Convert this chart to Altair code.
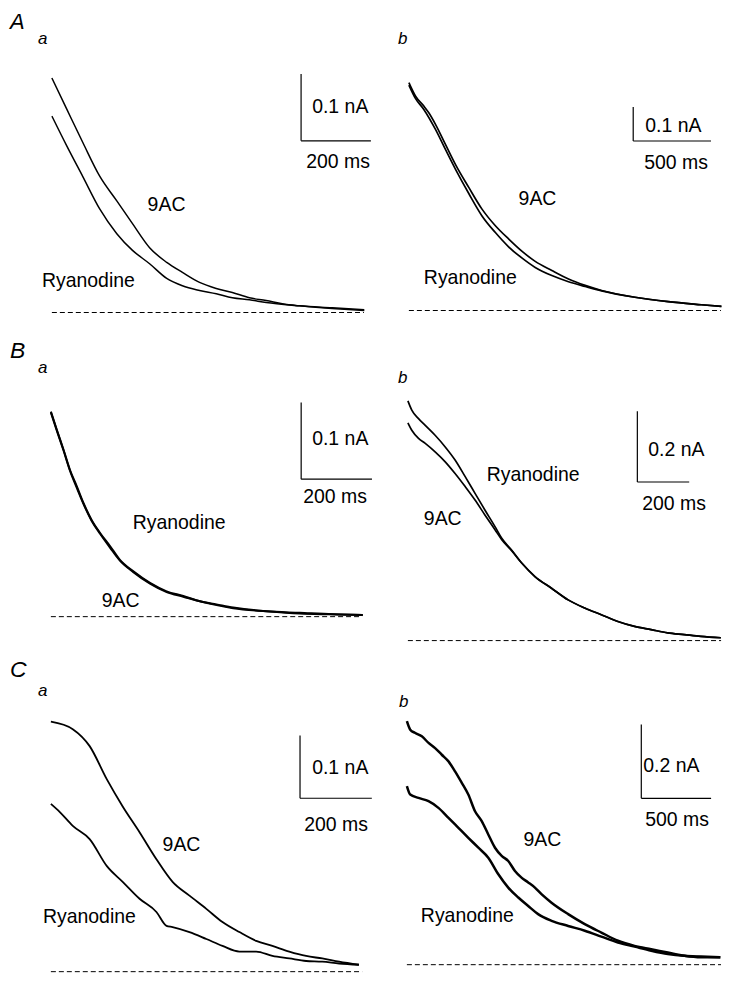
import altair as alt
import pandas as pd

# ---------------- data (time in ms, current in nA) ----------------
# Panel A a
Aa_9ac_t = [0, 43, 89, 137, 186, 231, 280, 329, 374, 423, 471, 517, 566, 614, 660, 709, 803, 895]
Aa_9ac = [0.351, 0.304, 0.254, 0.204, 0.167, 0.133, 0.097, 0.075, 0.060, 0.045, 0.036,
          0.030, 0.022, 0.018, 0.013, 0.010, 0.007, 0.004]
Aa_ry_t = [0, 43, 89, 137, 186, 231, 280, 329, 374, 423, 471, 517, 566, 614, 709, 803, 895]
Aa_ry = [0.294, 0.249, 0.203, 0.155, 0.118, 0.093, 0.073, 0.051, 0.040, 0.033, 0.028,
         0.022, 0.019, 0.015, 0.010, 0.006, 0.003]

# Panel A b
Ab_9ac_t = [0, 43, 96, 128, 171, 235, 299, 385, 470, 556, 641, 726, 812, 919, 1026, 1133,
            1239, 1453, 1667, 1880, 2009]
Ab_9ac = [0.672, 0.632, 0.603, 0.583, 0.549, 0.490, 0.431, 0.363, 0.299, 0.250, 0.211,
          0.175, 0.145, 0.118, 0.093, 0.074, 0.059, 0.039, 0.026, 0.017, 0.012]
Ab_ry_t = [0, 43, 96, 171, 235, 299, 385, 470, 556, 641, 726, 812, 919, 1026, 1133, 1239,
           1453, 1667, 1880, 2009]
Ab_ry = [0.665, 0.625, 0.593, 0.534, 0.475, 0.417, 0.345, 0.279, 0.230, 0.188, 0.155,
         0.127, 0.103, 0.085, 0.071, 0.058, 0.039, 0.026, 0.017, 0.012]

# Panel B a
Ba_t = [0, 17, 36, 54, 73, 92, 115, 139, 167, 195, 233, 280, 327, 374, 421, 468, 515, 609,
        703, 796, 881]
Ba_ry = [0.267, 0.243, 0.217, 0.191, 0.170, 0.148, 0.126, 0.109, 0.092, 0.074, 0.059,
         0.044, 0.033, 0.027, 0.020, 0.016, 0.012, 0.007, 0.005, 0.003, 0.002]
Ba_9ac = [0.266, 0.242, 0.216, 0.190, 0.168, 0.147, 0.125, 0.108, 0.090, 0.073, 0.058,
          0.043, 0.032, 0.026, 0.020, 0.015, 0.011, 0.007, 0.004, 0.003, 0.002]

# Panel B b
Bb_t = [0, 15, 41, 67, 105, 144, 182, 221, 259, 297, 336, 362, 400, 439, 490, 554, 618, 682,
        746, 810, 874, 938, 1002, 1066, 1130, 1207]
Bb_ry = [0.677, 0.651, 0.627, 0.608, 0.580, 0.547, 0.510, 0.463, 0.416, 0.369, 0.322,
         0.289, 0.256, 0.219, 0.181, 0.148, 0.115, 0.092, 0.073, 0.054, 0.040, 0.031,
         0.022, 0.017, 0.012, 0.008]
Bb_9ac = [0.615, 0.594, 0.571, 0.557, 0.533, 0.505, 0.472, 0.435, 0.397, 0.355, 0.313,
          0.285, 0.254, 0.219, 0.181, 0.148, 0.115, 0.092, 0.073, 0.054, 0.040, 0.031,
          0.022, 0.017, 0.012, 0.008]

# Panel C a
Ca_t = [0, 25, 61, 108, 156, 200, 247, 294, 322, 339, 386, 433, 478, 525, 572, 617, 664,
        711, 756, 803, 858]
Ca_9ac_t = [0, 61, 108, 156, 200, 247, 294, 339, 386, 433, 478, 525, 572, 617, 664, 711,
            756, 803, 858]
Ca_9ac = [0.398, 0.386, 0.359, 0.306, 0.263, 0.222, 0.179, 0.143, 0.121, 0.100, 0.079,
          0.063, 0.049, 0.041, 0.032, 0.025, 0.021, 0.016, 0.011]
Ca_ry = [0.267, 0.254, 0.232, 0.211, 0.168, 0.143, 0.116, 0.095, 0.073, 0.071, 0.063,
         0.052, 0.041, 0.032, 0.032, 0.025, 0.021, 0.017, 0.016, 0.013, 0.011]

# Panel C b
Cb_9ac_t = [0, 24, 60, 107, 155, 202, 250, 298, 345, 393, 440, 488, 536, 583, 631, 679, 726,
            774, 821, 869, 917, 964, 1036, 1155, 1274, 1393, 1512, 1631, 1750, 1869, 1988,
            2107, 2245]
Cb_9ac = [0.660, 0.637, 0.628, 0.619, 0.601, 0.587, 0.569, 0.551, 0.524, 0.493, 0.461,
          0.416, 0.389, 0.353, 0.317, 0.295, 0.281, 0.254, 0.236, 0.223, 0.209, 0.191,
          0.168, 0.137, 0.110, 0.087, 0.065, 0.051, 0.042, 0.033, 0.024, 0.020, 0.020]
Cb_ry_t = [0, 24, 83, 155, 226, 298, 369, 440, 512, 583, 655, 726, 798, 869, 940, 1036,
           1155, 1274, 1393, 1512, 1631, 1750, 1869, 1988, 2107, 2245]
Cb_ry = [0.484, 0.461, 0.452, 0.443, 0.425, 0.398, 0.371, 0.344, 0.317, 0.290, 0.245,
         0.209, 0.182, 0.159, 0.137, 0.119, 0.105, 0.092, 0.076, 0.060, 0.049, 0.038,
         0.029, 0.024, 0.022, 0.020]

# scale bars: duration (ms), amplitude (nA), labels
BAR_DUR = [200, 500, 200, 200, 200, 500]
BAR_AMP = [0.1, 0.1, 0.1, 0.2, 0.1, 0.2]
BAR_AMP_LABEL = ["0.1 nA", "0.1 nA", "0.1 nA", "0.2 nA", "0.1 nA", "0.2 nA"]
BAR_DUR_LABEL = ["200 ms", "500 ms", "200 ms", "200 ms", "200 ms", "500 ms"]

# ---------------- layout ----------------
ROW_TOP = [8, 328, 656]
ROW_H = [320, 328, 322]
COL_LEFT = [8, 378]
COL_W = [370, 348]
FONT = "Liberation Sans"
LBL = 19.5

panels = [
    dict(row=0, col=0, start_px=52, base_px=312, ms_px=200 / 70, na_px=0.1 / 67,
         traces=[(Aa_9ac_t, Aa_9ac), (Aa_ry_t, Aa_ry)], base_end=894, bar_at=(714, 0.257), sw=1.5,
         texts=[("A", 10, 28, 22, True), ("a", 38, 43, 17, True),
                (BAR_AMP_LABEL[0], 313, 112, LBL, False), (BAR_DUR_LABEL[0], 307, 167, LBL, False),
                ("9AC", 148, 210, LBL, False), ("Ryanodine", 42, 286, LBL, False)]),
    dict(row=0, col=1, start_px=410, base_px=310, ms_px=500 / 78, na_px=0.1 / 34,
         traces=[(Ab_9ac_t, Ab_9ac), (Ab_ry_t, Ab_ry)], base_end=2006, bar_at=(1442, 0.5), sw=1.7,
         texts=[("b", 399, 43, 17, True),
                (BAR_AMP_LABEL[1], 647, 131, LBL, False), (BAR_DUR_LABEL[1], 646, 168, LBL, False),
                ("9AC", 520, 204, LBL, False), ("Ryanodine", 425, 283, LBL, False)]),
    dict(row=1, col=0, start_px=51, base_px=617, ms_px=200 / 71, na_px=0.1 / 77,
         traces=[(Ba_t, Ba_ry), (Ba_t, Ba_9ac)], base_end=879, bar_at=(707, 0.179), sw=2.0,
         texts=[("B", 10, 358, 23, True), ("a", 38, 373, 17, True),
                (BAR_AMP_LABEL[2], 313, 445, LBL, False), (BAR_DUR_LABEL[2], 304, 503, LBL, False),
                ("Ryanodine", 133, 529, LBL, False), ("9AC", 102, 607, LBL, False)]),
    dict(row=1, col=1, start_px=409, base_px=641, ms_px=200 / 52, na_px=0.2 / 71,
         traces=[(Bb_t, Bb_ry), (Bb_t, Bb_9ac)], base_end=1208, bar_at=(885, 0.448), sw=1.7,
         texts=[("b", 399, 383, 17, True),
                (BAR_AMP_LABEL[3], 650, 456, LBL, False), (BAR_DUR_LABEL[3], 644, 510, LBL, False),
                ("Ryanodine", 488, 481, LBL, False), ("9AC", 425, 525, LBL, False)]),
    dict(row=2, col=0, start_px=51, base_px=973, ms_px=200 / 72, na_px=0.1 / 63,
         traces=[(Ca_9ac_t, Ca_9ac), (Ca_t, Ca_ry)], base_end=867, bar_at=(694, 0.276), sw=1.8,
         texts=[("C", 10, 678, 23, True), ("a", 38, 697, 17, True),
                (BAR_AMP_LABEL[4], 313, 775, LBL, False), (BAR_DUR_LABEL[4], 305, 832, LBL, False),
                ("9AC", 163, 852, LBL, False), ("Ryanodine", 43, 924, LBL, False)]),
    dict(row=2, col=1, start_px=408, base_px=966, ms_px=500 / 70, na_px=0.2 / 74,
         traces=[(Cb_9ac_t, Cb_9ac), (Cb_ry_t, Cb_ry)], base_end=2250, bar_at=(1679, 0.451), sw=2.5,
         texts=[("b", 400, 708, 17, True),
                (BAR_AMP_LABEL[5], 645, 773, LBL, False), (BAR_DUR_LABEL[5], 647, 827, LBL, False),
                ("9AC", 525, 847, LBL, False), ("Ryanodine", 422, 923, LBL, False)]),
]


def make_panel(k, p):
    left = COL_LEFT[p["col"]]
    w = COL_W[p["col"]]
    top = ROW_TOP[p["row"]]
    h = ROW_H[p["row"]]
    t_lo = -(p["start_px"] - left) * p["ms_px"]
    t_hi = t_lo + w * p["ms_px"]
    i_hi = (p["base_px"] - top) * p["na_px"]
    i_lo = i_hi - h * p["na_px"]
    xs = alt.Scale(domain=[t_lo, t_hi], nice=False, zero=False)
    ys = alt.Scale(domain=[i_lo, i_hi], nice=False, zero=False)

    layers = []
    # dashed zero-current baseline
    base = pd.DataFrame({"t": [0.0], "t2": [float(p["base_end"])], "i": [0.0]})
    layers.append(
        alt.Chart(base).mark_rule(color="black", strokeWidth=1, strokeDash=[5, 3]).encode(
            x=alt.X("t:Q", scale=xs, axis=None), x2="t2:Q",
            y=alt.Y("i:Q", scale=ys, axis=None))
    )
    # current traces
    for t, v in p["traces"]:
        df = pd.DataFrame({"t": t, "i": v})
        layers.append(
            alt.Chart(df).mark_line(color="black", strokeWidth=p["sw"], interpolate="monotone").encode(
                x=alt.X("t:Q", scale=xs, axis=None),
                y=alt.Y("i:Q", scale=ys, axis=None),
                order="t:Q")
        )
    # scale bar
    t0, i0 = p["bar_at"]
    dur, amp = BAR_DUR[k], BAR_AMP[k]
    bar = pd.DataFrame({"t": [t0, t0], "t2": [t0, t0 + dur],
                        "i": [i0, i0], "i2": [i0 + amp, i0]})
    layers.append(
        alt.Chart(bar).mark_rule(color="black", strokeWidth=1.2).encode(
            x=alt.X("t:Q", scale=xs, axis=None), x2="t2:Q",
            y=alt.Y("i:Q", scale=ys, axis=None), y2="i2:Q")
    )
    # text labels
    for txt, px, py, size, ital in p["texts"]:
        mk = dict(text=txt, align="left", baseline="alphabetic", font=FONT,
                  fontSize=size, color="black")
        if ital:
            mk["fontStyle"] = "italic"
        layers.append(
            alt.Chart(base).mark_text(**mk).encode(
                x=alt.value(px - left), y=alt.value(py - top))
        )
    return alt.layer(*layers).properties(width=w, height=h)


charts = [make_panel(k, p) for k, p in enumerate(panels)]
chart = alt.concat(*charts, columns=2, spacing=0, bounds="flush", align="each").properties(
    padding=0, background="white"
).configure_view(stroke=None)

chart.save("out.html", embed_options={"renderer": "svg", "actions": False})
